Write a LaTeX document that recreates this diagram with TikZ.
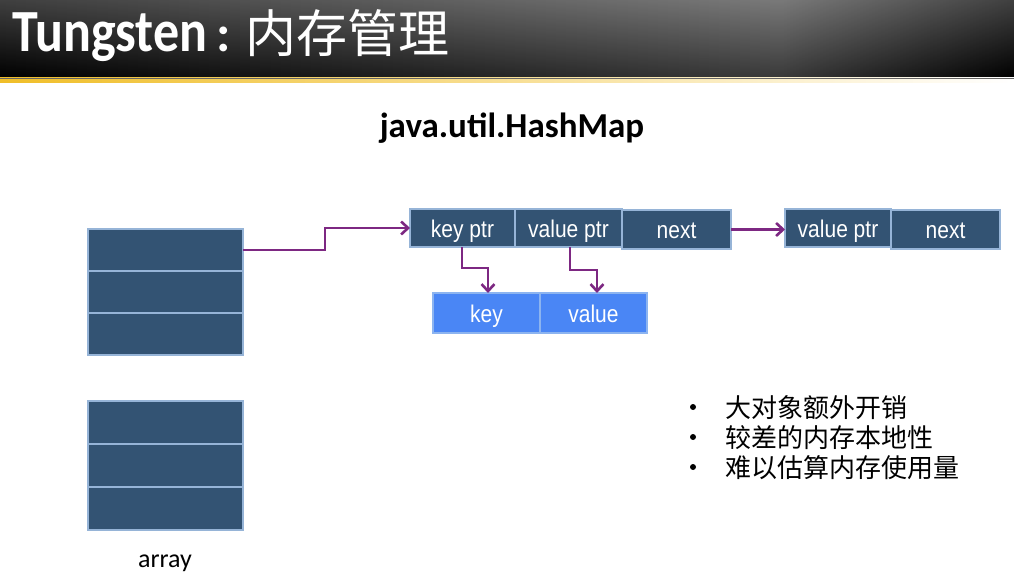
\documentclass[tikz,border=0pt]{standalone}
\usepackage{fontspec}
\setmainfont{Liberation Sans}
\newfontfamily\calib{Carlito}
\newfontfamily\cjk{Noto Sans CJK SC}
\usetikzlibrary{arrows.meta}
\definecolor{cell color}{RGB}{51,83,115}
\definecolor{cell border}{RGB}{150,180,215}
\definecolor{data color}{RGB}{74,134,245}
\definecolor{data border}{RGB}{140,180,240}
\definecolor{link color}{RGB}{125,40,130}
\definecolor{bar yellow}{RGB}{240,190,40}
\newcommand\tallbox[1]{\scalebox{1}[1.15]{#1}}
\tikzset{
    x={1pt},
    y={-1pt},
    cell/.style={
        rectangle, fill=cell color, draw=cell border,
        line width={1.5pt},
        inner sep=0pt, outer sep=0pt,
        minimum width={#1},
        minimum height={42},
        text height={19}, text depth={1},
        font={\fontsize{21}{24}\selectfont\color{white}},
    },
    cell/.default={155},
    data cell/.style={
        cell={107},
        minimum height={40},
        fill=data color, draw=data border,
    },
    link/.style={
        draw=link color,
        line width={2.8pt},
        -{Straight Barb[length=7pt,width=13pt,line width=2.6pt]},
    },
    bullet item/.style={
        anchor=base west,
        font={\fontsize{26}{30}\selectfont\cjk},
        inner sep=0pt,
    },
}

\begin{document}
\begin{tikzpicture}
\useasboundingbox (0,0) rectangle (1014,580);
% title bar
\fill[white] (0,0) rectangle (1014,580);
\shade[left color=black, right color=black!70!white] (0,0) rectangle (780,78);
\shade[left color=black!70!white, right color=black] (780,0) rectangle (1014,78);
\shade[top color=white, bottom color=black, opacity=0.25] (0,0) rectangle (1014,78);
\shade[left color=bar yellow, right color=white] (0,78) rectangle (1014,83);
\draw[black!60, line width={1pt}] (0,78.5) -- (1014,78.5);
\node[anchor=base west, inner sep=0pt, text=white, font={\calib\bfseries\fontsize{52}{60}\selectfont}] (title) at (12,52)
    {\tallbox{Tungsten}};
\node[anchor=base west, inner sep=0pt, text=white, font={\calib\bfseries\fontsize{52}{60}\selectfont}] (title colon) at (216,52) {:};
\node[anchor=base west, inner sep=0pt, text=white, font={\cjk\fontsize{51}{60}\selectfont}] (title cjk) at (245,53) {内存管理};
\node[font={\calib\bfseries\fontsize{35}{40}\selectfont}] (map title) at (512,128) {java.util.HashMap};
% arrays
\node[cell] (a1) at (165.5,250) {};
\node[cell, anchor=north] (a2) at (a1.south) {};
\node[cell, anchor=north] (a3) at (a2.south) {};
\node[cell, minimum height={43}] (b1) at (165.5,422.5) {};
\node[cell, minimum height={43}, anchor=north] (b2) at (b1.south) {};
\node[cell, minimum height={43}, anchor=north] (b3) at (b2.south) {};
\node[font={\calib\fontsize{26}{30}\selectfont}] (array label) at (165,563) {array};
% entries
\node[cell={105}, minimum height={38}] (key ptr) at (462.5,228) {\tallbox{key ptr}};
\node[cell={107}, minimum height={38}, anchor=west] (value ptr) at (key ptr.east) {\tallbox{value ptr}};
\node[cell={109}, minimum height={39}, anchor=west, yshift=-1.5] (next) at (value ptr.east) {\tallbox{next}};
\node[cell={106}, minimum height={38}] (value ptr 2) at (838,228) {\tallbox{value ptr}};
\node[cell={109}, minimum height={39}, anchor=west, yshift=-1.5] (next 2) at (value ptr 2.east) {\tallbox{next}};
\node[data cell] (key) at (486.5,313) {\tallbox{key}};
\node[data cell, anchor=west] (value) at (key.east) {\tallbox{value}};
% links
\draw[link] (a1.east) -- (325,250) |- (key ptr.west);
\draw[link] (key ptr.south -| 462,0) |- (488,268) -- (key.north -| 488,0);
\draw[link] (value ptr.south -| 570,0) |- (597,270) -- (value.north -| 597,0);
\draw[link] (next.east) -- (next.east -| value ptr 2.west);
% notes
\foreach \txt [count=\i] in {大对象额外开销, 较差的内存本地性, 难以估算内存使用量} {
    \fill (693,{377+30*\i}) circle (3);
    \node[bullet item] (note \i) at (725,{387+30*\i}) {\txt};
}
\end{tikzpicture}
\end{document}
